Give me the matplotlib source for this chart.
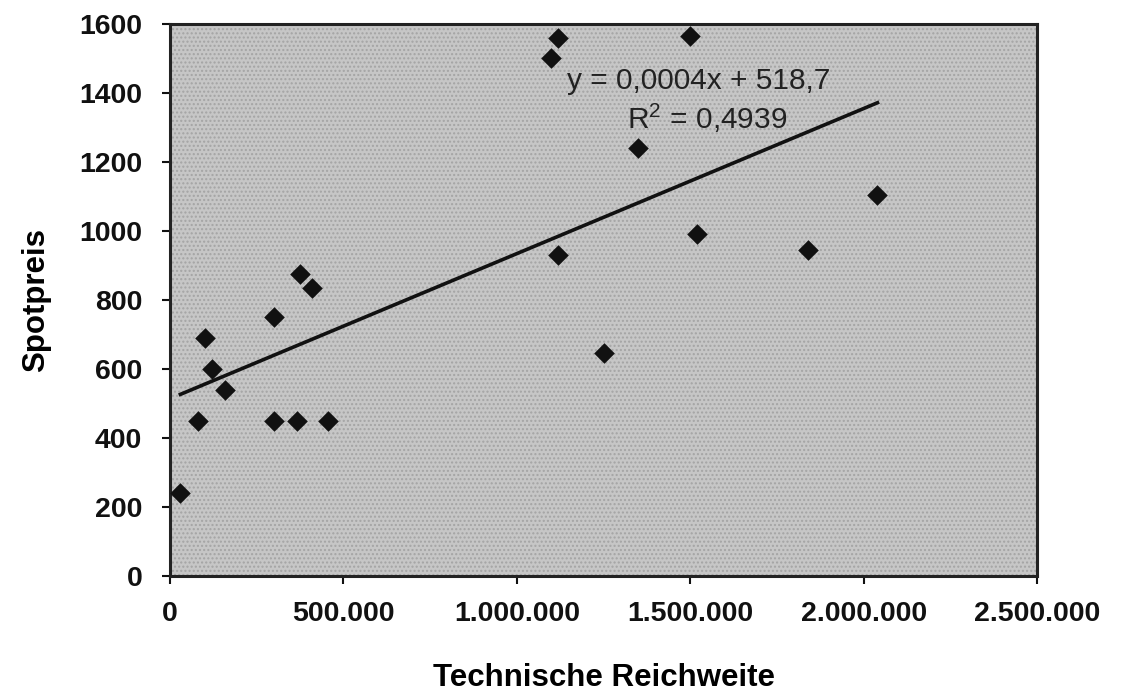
import numpy as np
import matplotlib
matplotlib.use("Agg")
import matplotlib.pyplot as plt
from matplotlib.ticker import FuncFormatter
from matplotlib.patches import Rectangle

# ── Data ───────────────────────────────────────────────────────────────
reichweite = [30000, 80000, 100000, 120000, 160000, 300000, 300000, 365000,
              455000, 375000, 410000, 1100000, 1120000, 1120000, 1250000,
              1350000, 1500000, 1520000, 1840000, 2040000]
spotpreis = [240, 450, 690, 600, 540, 750, 450, 450,
             450, 875, 835, 1500, 1560, 930, 645,
             1240, 1565, 990, 945, 1105]

x_ticks = [0, 500000, 1000000, 1500000, 2000000, 2500000]
y_ticks = [0, 200, 400, 600, 800, 1000, 1200, 1400, 1600]

eq_text = "y = 0,0004x + 518,7"
r2_text = "R$^2$ = 0,4939"

plt.rcParams["font.family"] = ["Liberation Sans", "DejaVu Sans"]
plt.rcParams["mathtext.fontset"] = "custom"
plt.rcParams["mathtext.rm"] = "Liberation Sans"

fig = plt.figure(figsize=(11.31, 6.91), dpi=100)
ax = fig.add_axes([0.1503, 0.1664, 0.7666, 0.7989])

# stippled grey plot area
ax.set_facecolor("#c6c6c6")
ax.add_patch(Rectangle((0, 0), 1, 1, transform=ax.transAxes, facecolor="none",
                       edgecolor="#a4a4a4", hatch="....", lw=0, zorder=0))

x = np.array(reichweite, dtype=float)
y = np.array(spotpreis, dtype=float)
ax.scatter(x, y, marker="D", s=110, color="#111111", zorder=3, linewidths=0)

# linear trend over the data range
slope, icpt = np.polyfit(x, y, 1)
xs = np.array([x.min(), x.max()])
ax.plot(xs, slope * xs + icpt, color="#111111", lw=2.6, zorder=2)

ax.text(1144000, 1412, eq_text, fontsize=21.5, color="#222222", zorder=4)
ax.text(1317000, 1295, r2_text, fontsize=21.5, color="#222222", zorder=4)

ax.set_xlim(0, 2500000)
ax.set_ylim(0, 1600)
ax.set_xticks(x_ticks)
ax.set_yticks(y_ticks)
ax.xaxis.set_major_formatter(FuncFormatter(lambda v, p: f"{int(v):,}".replace(",", ".")))

ax.tick_params(axis="both", direction="out", length=6, width=1.5, labelsize=20.5,
               colors="#111111")
ax.tick_params(axis="x", pad=12)
ax.tick_params(axis="y", pad=14)
for lab in ax.get_xticklabels() + ax.get_yticklabels():
    lab.set_fontweight("bold")
for sp in ax.spines.values():
    sp.set_linewidth(2.2)
    sp.set_color("#222222")

ax.set_xlabel("Technische Reichweite", fontsize=22.5, fontweight="bold", labelpad=26)
ax.set_ylabel("Spotpreis", fontsize=22.5, fontweight="bold", labelpad=20)

plt.savefig("out.png", dpi=100)
